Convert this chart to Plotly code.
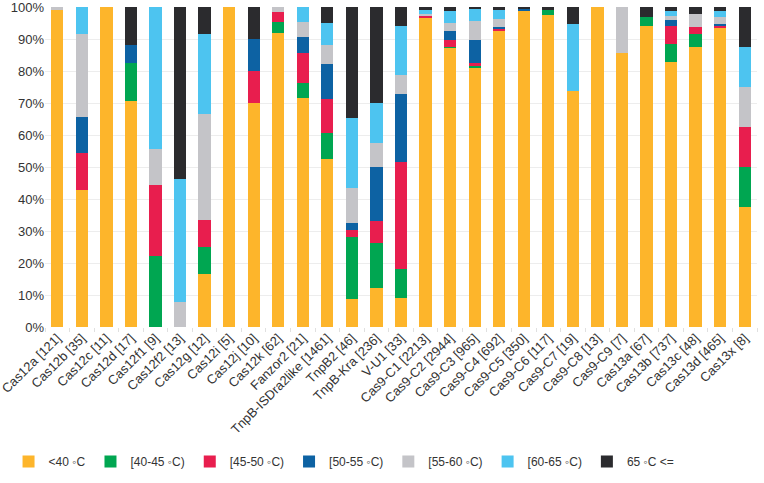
import plotly.graph_objects as go

categories = [
    "Cas12a [121]", "Cas12b [35]", "Cas12c [11]", "Cas12d [17]", "Cas12f1 [9]",
    "Cas12f2 [13]", "Cas12g [12]", "Cas12i [5]", "Cas12j [10]", "Cas12k [62]",
    "Fanzor2 [21]", "TnpB-ISDra2like [1461]", "TnpB2 [46]", "TnpB-Kra [236]",
    "V-U1 [33]", "Cas9-C1 [2213]", "Cas9-C2 [2944]", "Cas9-C3 [965]",
    "Cas9-C4 [692]", "Cas9-C5 [350]", "Cas9-C6 [117]", "Cas9-C7 [19]",
    "Cas9-C8 [13]", "Cas9-C9 [7]", "Cas13a [67]", "Cas13b [737]",
    "Cas13c [48]", "Cas13d [465]", "Cas13x [8]",
]

# counts per temperature bin (normalised to percent by plotly)
below_40 = [120, 15, 11, 12, 0, 0, 2, 5, 7, 57, 15, 767, 4, 29, 3, 2138, 2567, 783, 642, 346, 114, 14, 13, 6, 63, 611, 42, 435, 3]
t40_45 = [0, 0, 0, 2, 2, 0, 1, 0, 0, 2, 1, 118, 9, 33, 3, 3, 9, 3, 0, 0, 2, 0, 0, 0, 2, 41, 2, 0, 1]
t45_50 = [0, 4, 0, 0, 2, 0, 1, 0, 1, 2, 2, 157, 1, 16, 11, 10, 68, 10, 4, 0, 0, 0, 0, 0, 0, 41, 1, 2, 1]
t50_55 = [0, 4, 0, 1, 0, 0, 0, 0, 1, 0, 1, 160, 1, 40, 7, 5, 79, 71, 3, 2, 0, 0, 0, 0, 0, 14, 0, 4, 0]
t55_60 = [1, 9, 0, 0, 1, 1, 4, 0, 0, 1, 1, 87, 5, 18, 2, 8, 77, 57, 17, 0, 0, 0, 0, 1, 0, 9, 2, 10, 1]
t60_65 = [0, 3, 0, 0, 4, 5, 3, 0, 0, 0, 1, 100, 10, 29, 5, 30, 103, 36, 19, 0, 0, 4, 0, 0, 0, 12, 0, 8, 1]
above_65 = [0, 0, 0, 2, 0, 7, 1, 0, 1, 0, 0, 72, 16, 71, 2, 19, 41, 5, 7, 2, 1, 1, 0, 0, 2, 9, 1, 6, 1]

series = [
    ("<40 \u25e6C", below_40, "#FDB52B"),
    ("[40-45 \u25e6C)", t40_45, "#00A651"),
    ("[45-50 \u25e6C)", t45_50, "#E81E4E"),
    ("[50-55 \u25e6C)", t50_55, "#0D62A3"),
    ("[55-60 \u25e6C)", t55_60, "#C4C4C8"),
    ("[60-65 \u25e6C)", t60_65, "#4DC4F0"),
    ("65 \u25e6C <=", above_65, "#2B2B2E"),
]

fig = go.Figure()
for name, vals, color in series:
    fig.add_trace(go.Bar(x=categories, y=vals, name=name,
                         marker=dict(color=color, line_width=0)))

fig.update_layout(
    width=764, height=483,
    barmode="stack", barnorm="percent", bargap=0.5,
    paper_bgcolor="white", plot_bgcolor="white",
    margin=dict(l=45, r=7, t=7, b=152),
    font=dict(family="Liberation Sans, Arial, sans-serif", size=13, color="#333333"),
    legend=dict(orientation="h", x=0.42, xanchor="center", y=-0.42, yanchor="middle",
                font=dict(size=12), itemwidth=30, traceorder="normal"),
    showlegend=True,
)
fig.update_xaxes(tickangle=-45, ticks="outside", tickson="boundaries", ticklen=4,
                 tickcolor="#E0E0E0", showgrid=False, showline=False, automargin=False,
                 tickfont=dict(size=13, color="#333333"))
fig.update_yaxes(range=[0, 100], dtick=10, ticksuffix="%", showgrid=True,
                 gridcolor="#EDEDED", zeroline=False, showline=False, automargin=False,
                 ticklabeloverflow="allow",
                 tickfont=dict(size=13, color="#333333"))

fig.write_html("out.html", config={"displayModeBar": False},
               post_script="document.body.style.margin='0';")
